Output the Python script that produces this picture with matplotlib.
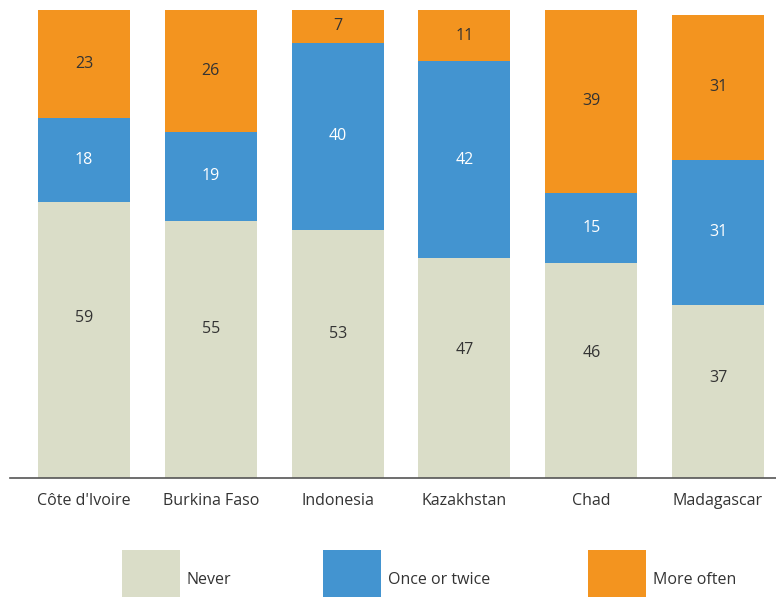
import matplotlib
matplotlib.use("Agg")
import matplotlib.pyplot as plt
from matplotlib.patches import Rectangle

countries = ["Côte d'Ivoire", "Burkina Faso", "Indonesia", "Kazakhstan", "Chad", "Madagascar"]
never = [59, 55, 53, 47, 46, 37]
once_twice = [18, 19, 40, 42, 15, 31]
more_often = [23, 26, 7, 11, 39, 31]
series_names = ["Never", "Once or twice", "More often"]
colors = ["#DADDC8", "#4394D0", "#F3941F"]
label_colors = ["#333333", "#FFFFFF", "#333333"]
label_frac = [0.58, 0.5, 0.5]

plt.rcParams['font.family'] = ['Open Sans', 'DejaVu Sans']

fig = plt.figure(figsize=(7.76, 5.97), dpi=100)
ax = fig.add_axes([10 / 776, (597 - 478) / 597, 766 / 776, 468 / 597])

x = list(range(len(countries)))
width = 0.726
bottoms = [0] * len(countries)
for vals, col, lc, fr in zip([never, once_twice, more_often], colors, label_colors, label_frac):
    ax.bar(x, vals, width=width, bottom=bottoms, color=col, edgecolor='none')
    for xi, b, v in zip(x, bottoms, vals):
        ax.text(xi, b + v * fr, str(v), ha='center', va='center', color=lc, fontsize=11.5)
    bottoms = [b + v for b, v in zip(bottoms, vals)]

ax.set_xlim(-0.584, 5.457)
ax.set_ylim(0, 100)
for s in ['top', 'right', 'left']:
    ax.spines[s].set_visible(False)
ax.spines['bottom'].set_color('#555555')
ax.spines['bottom'].set_linewidth(1.2)
ax.set_yticks([])
ax.set_xticks(x)
ax.set_xticklabels(countries, fontsize=11.5, color='#333333')
ax.tick_params(axis='x', length=0, pad=11)

# legend
leg_x = [122, 323, 588]
for lx, name, col in zip(leg_x, series_names, colors):
    fig.patches.append(Rectangle((lx / 776, 0), 58 / 776, 47 / 597, transform=fig.transFigure,
                                 facecolor=col, edgecolor='none'))
    fig.text((lx + 65) / 776, (597 - 580) / 597, name, fontsize=11.5, color='#333333',
             ha='left', va='center')

fig.savefig("out.png", dpi=100)
